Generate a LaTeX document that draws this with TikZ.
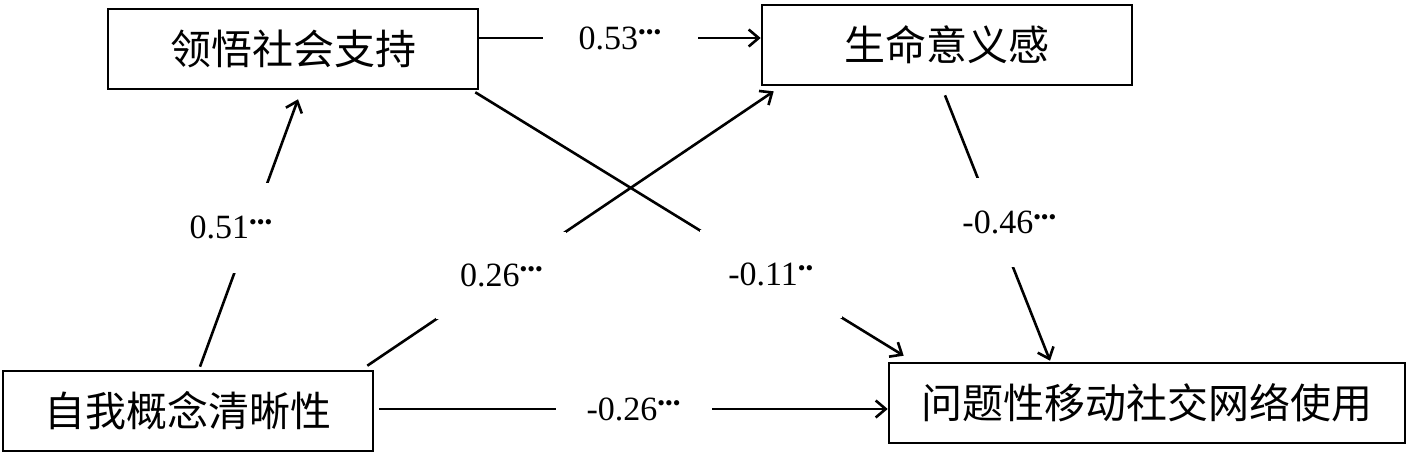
\documentclass[tikz,border=0pt]{standalone}
\usepackage{fontspec}
\setmainfont{Liberation Serif}
\newfontfamily\cjk{Noto Sans CJK SC}
\usetikzlibrary{arrows.meta}
\tikzset{
  var/.style={draw, line width=2.6pt, minimum width=370pt, minimum height=80pt, inner sep=0pt, font=\cjk\fontsize{41}{41}\selectfont},
  coef/.style={fill=white, inner sep=0pt, font=\fontsize{34}{34}\selectfont},
  link/.style={line width=2.6pt, -{Straight Barb[length=10pt,width=17pt]}},
}
\newcommand{\sigdots}[1]{\raisebox{9.5pt}{\fontsize{22}{22}\selectfont #1}}

\begin{document}
\begin{tikzpicture}[x=1pt,y=-1pt]
		%\draw[help lines] (0,0) grid (1410,456);
		\useasboundingbox (0,0) rectangle (1410,456);
		\node[var] (pss) at (293,49) {领悟社会支持};
		\node[var] (mil) at (947,45) {生命意义感};
		\node[var] (scc) at (188,411) {自我概念清晰性};
		\node[var, minimum width=516pt] (pmsnu) at (1147,403) {问题性移动社交网络使用};
		
		\draw[link] ([yshift=11pt]pss.east) -- node[coef, minimum width=155pt] {0.53\sigdots{•••}} ([yshift=7pt]mil.west);%top
		\draw[link] ([xshift=5pt,yshift=2pt]scc.east) -- node[coef, minimum width=156pt] {-0.26\sigdots{•••}} ([yshift=-6pt]pmsnu.west);%bottom
		\draw[link] ([xshift=12pt,yshift=3pt]scc.north) -- node[coef, pos=0.52, xshift=-20pt, minimum width=90pt, minimum height=90pt] {0.51\sigdots{•••}} ([xshift=5pt,yshift=-9pt]pss.south);
		\draw[link] ([xshift=-7pt,yshift=4pt]scc.north east) -- node[coef, pos=0.33, minimum width=130pt, minimum height=87pt] {0.26\sigdots{•••}} ([xshift=13pt,yshift=-5pt]mil.south west);
		\draw[link] ([xshift=-4pt,yshift=-2pt]pss.south east) -- node[coef, pos=0.69, minimum width=142pt, minimum height=88pt] {-0.11\sigdots{••}} ([xshift=16pt,yshift=6pt]pmsnu.north west);
		\draw[link] ([xshift=-2pt,yshift=-9pt]mil.south) -- node[coef, pos=0.48, xshift=14pt, minimum width=110pt, minimum height=89pt] {-0.46\sigdots{•••}} ([xshift=-97pt,yshift=1pt]pmsnu.north);
\end{tikzpicture}
\end{document}
